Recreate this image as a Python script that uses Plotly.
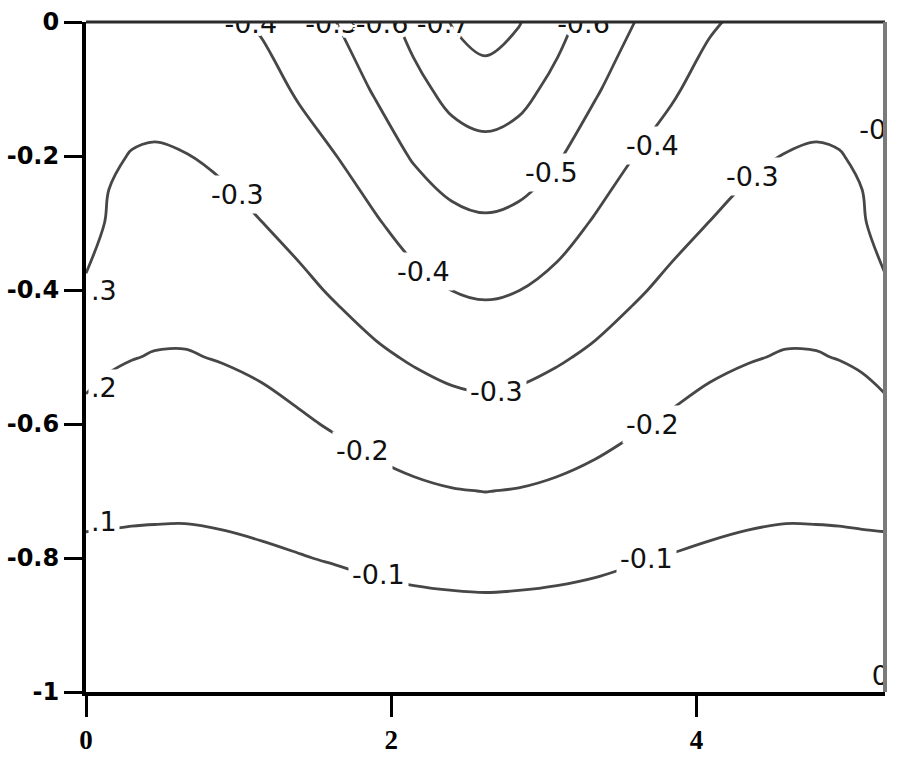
import plotly.graph_objects as go

# ---- data ----
x_vals = [0, 0.15, 0.3, 0.45, 0.65, 0.9, 1.15, 1.4, 1.65, 1.9, 2.15, 2.4, 2.618,
          2.836, 3.086, 3.336, 3.586, 3.836, 4.086, 4.336, 4.586, 4.786, 4.936, 5.086, 5.236]
y_vals = [-1.0, -0.9, -0.8, -0.7, -0.6, -0.5, -0.4, -0.3, -0.2, -0.1, -0.05, 0.0]

z_y_m100 = [0, 0, 0, 0, 0, 0, 0, 0, 0, 0, 0, 0, 0, 0, 0, 0, 0, 0, 0, 0, 0, 0, 0, 0, 0]
z_y_m090 = [-0.041, -0.041, -0.040, -0.040, -0.040, -0.042, -0.044, -0.048, -0.053, -0.059, -0.063, -0.066, -0.068,
            -0.066, -0.063, -0.059, -0.053, -0.048, -0.044, -0.042, -0.040, -0.040, -0.040, -0.041, -0.041]
z_y_m080 = [-0.082, -0.082, -0.081, -0.080, -0.080, -0.083, -0.089, -0.097, -0.106, -0.117, -0.126, -0.132, -0.134,
            -0.132, -0.126, -0.117, -0.106, -0.097, -0.089, -0.083, -0.080, -0.080, -0.081, -0.082, -0.082]
z_y_m070 = [-0.128, -0.124, -0.121, -0.120, -0.119, -0.124, -0.132, -0.143, -0.157, -0.173, -0.187, -0.197, -0.201,
            -0.197, -0.187, -0.173, -0.157, -0.143, -0.132, -0.124, -0.119, -0.120, -0.121, -0.124, -0.128]
z_y_m060 = [-0.176, -0.168, -0.162, -0.158, -0.158, -0.164, -0.174, -0.190, -0.209, -0.230, -0.248, -0.261, -0.267,
            -0.261, -0.248, -0.230, -0.209, -0.190, -0.174, -0.164, -0.158, -0.158, -0.162, -0.168, -0.176]
z_y_m050 = [-0.229, -0.210, -0.202, -0.197, -0.196, -0.204, -0.216, -0.236, -0.261, -0.287, -0.309, -0.329, -0.337,
            -0.329, -0.309, -0.287, -0.261, -0.236, -0.216, -0.204, -0.196, -0.197, -0.202, -0.210, -0.229]
z_y_m040 = [-0.286, -0.247, -0.234, -0.229, -0.230, -0.241, -0.258, -0.282, -0.311, -0.340, -0.372, -0.401, -0.411,
            -0.401, -0.372, -0.340, -0.311, -0.282, -0.258, -0.241, -0.230, -0.229, -0.234, -0.247, -0.286]
z_y_m030 = [-0.342, -0.290, -0.266, -0.261, -0.264, -0.278, -0.299, -0.326, -0.356, -0.392, -0.439, -0.475, -0.488,
            -0.475, -0.439, -0.392, -0.356, -0.326, -0.299, -0.278, -0.264, -0.261, -0.266, -0.290, -0.342]
z_y_m020 = [-0.355, -0.310, -0.297, -0.293, -0.298, -0.313, -0.335, -0.368, -0.401, -0.452, -0.509, -0.553, -0.568,
            -0.553, -0.509, -0.452, -0.401, -0.368, -0.335, -0.313, -0.298, -0.293, -0.297, -0.310, -0.355]
z_y_m010 = [-0.362, -0.336, -0.329, -0.326, -0.332, -0.347, -0.371, -0.410, -0.451, -0.510, -0.572, -0.632, -0.656,
            -0.632, -0.572, -0.510, -0.451, -0.410, -0.371, -0.347, -0.332, -0.326, -0.329, -0.336, -0.362]
z_y_m005 = [-0.366, -0.348, -0.345, -0.343, -0.348, -0.363, -0.389, -0.430, -0.477, -0.535, -0.603, -0.672, -0.702,
            -0.672, -0.603, -0.535, -0.477, -0.430, -0.389, -0.363, -0.348, -0.343, -0.345, -0.348, -0.366]
z_y_000 = [-0.370, -0.360, -0.360, -0.360, -0.365, -0.380, -0.410, -0.450, -0.502, -0.560, -0.630, -0.705, -0.750,
           -0.705, -0.630, -0.560, -0.502, -0.450, -0.410, -0.380, -0.365, -0.360, -0.360, -0.360, -0.370]

z_rows = [z_y_m100, z_y_m090, z_y_m080, z_y_m070, z_y_m060, z_y_m050,
          z_y_m040, z_y_m030, z_y_m020, z_y_m010, z_y_m005, z_y_000]

contour_start = -0.7
contour_end = -0.1
contour_step = 0.1

x_tick_vals = [0, 2, 4]
x_tick_text = ["0", "2", "4"]
y_tick_vals = [0, -0.2, -0.4, -0.6, -0.8, -1]
y_tick_text = ["0", "-0.2", "-0.4", "-0.6", "-0.8", "-1"]

# contour label texts inside the plot (incl. the ones cut by the left axis)
inner_label_text = ["-0.3", "-0.4", "-0.2", "-0.1", "-0.3", "-0.5", "-0.4", "-0.3", "-0.2", "-0.1",
                    ".3", ".2", ".1"]
# contour label texts cut by the frame (top, right, bottom-right)
edge_label_text = ["-0.4", "-0.5", "-0.6", "-0.7", "-0.6", "-0.3", "0"]

# ---- label placement (layout) ----
inner_label_x = [0.99, 2.21, 1.81, 1.92, 2.69, 3.05, 3.71, 4.37, 3.71, 3.67,
                 0.12, 0.12, 0.12]
inner_label_y = [-0.258, -0.373, -0.640, -0.825, -0.552, -0.224, -0.185, -0.231, -0.601, -0.801,
                 -0.401, -0.546, -0.746]
inner_label_pad = [3, 3, 3, 3, 3, 3, 3, 3, 3, 3, 2, 2, 2]
edge_label_x = [1.08, 1.61, 1.94, 2.34, 3.26, 5.24, 5.205]
edge_label_y = [-0.007, -0.007, -0.007, -0.007, -0.007, -0.164, -0.979]

XMAX = 5.236
LINE_COL = "#474747"
FONT = "DejaVu Sans"
LABEL_SIZE = 27

halo = ", ".join(f"{dx}px {dy}px 0px #ffffff" for dx, dy in
                 [(5, 0), (-5, 0), (0, 5), (0, -5), (4, 3), (-4, 3), (4, -3), (-4, -3),
                  (3, 0), (-3, 0), (0, 3), (0, -3), (2, 2), (-2, 2), (2, -2), (-2, -2)])

fig = go.Figure()
fig.add_trace(go.Contour(
    x=x_vals, y=y_vals, z=z_rows,
    contours=dict(start=contour_start, end=contour_end, size=contour_step,
                  coloring="none", showlabels=False),
    line=dict(color=LINE_COL, width=2.8, smoothing=1.0),
    showscale=False, hoverinfo="skip",
))
fig.add_trace(go.Scatter(
    x=edge_label_x, y=edge_label_y, text=edge_label_text, mode="text",
    textposition="middle center", cliponaxis=True,
    textfont=dict(family=FONT, size=LABEL_SIZE, color="#111111", shadow=halo),
    hoverinfo="skip", showlegend=False,
))

for t, xx, yy, pad in zip(inner_label_text, inner_label_x, inner_label_y, inner_label_pad):
    fig.add_annotation(x=xx, y=yy, text=t, showarrow=False,
                       xanchor="center", yanchor="middle",
                       font=dict(family=FONT, size=LABEL_SIZE, color="#111111"),
                       bgcolor="white", borderpad=pad)

fig.update_layout(
    template="none",
    width=897, height=761,
    margin=dict(l=86, r=12, t=22, b=69, autoexpand=False),
    paper_bgcolor="white", plot_bgcolor="white",
    showlegend=False, hovermode=False,
    xaxis=dict(range=[0, XMAX], showgrid=False, zeroline=False, automargin=False,
               showline=True, linecolor="black", linewidth=4,
               ticks="outside", ticklen=21, tickwidth=3, tickcolor="black",
               tickvals=x_tick_vals, ticktext=x_tick_text, ticklabelstandoff=0,
               tickfont=dict(family="Liberation Serif", size=27, color="black", weight="bold")),
    yaxis=dict(range=[-1, 0], showgrid=False, zeroline=False, automargin=False,
               showline=True, linecolor="black", linewidth=4,
               ticks="outside", ticklen=18, tickwidth=3, tickcolor="black",
               tickvals=y_tick_vals, ticktext=y_tick_text, ticklabelstandoff=0,
               tickfont=dict(family=FONT, size=24, color="black", weight="bold")),
    shapes=[
        dict(type="line", xref="paper", yref="paper", x0=0, x1=1, y0=1, y1=1,
             line=dict(color="#2a2a2a", width=3), layer="above"),
        dict(type="line", xref="paper", yref="paper", x0=1, x1=1, y0=0, y1=1,
             line=dict(color="#7a7a7a", width=4), layer="above"),
    ],
)

fig.write_html("out.html", config={"displayModeBar": False},
               post_script="document.body.style.margin='0px';document.body.style.overflow='hidden';")
